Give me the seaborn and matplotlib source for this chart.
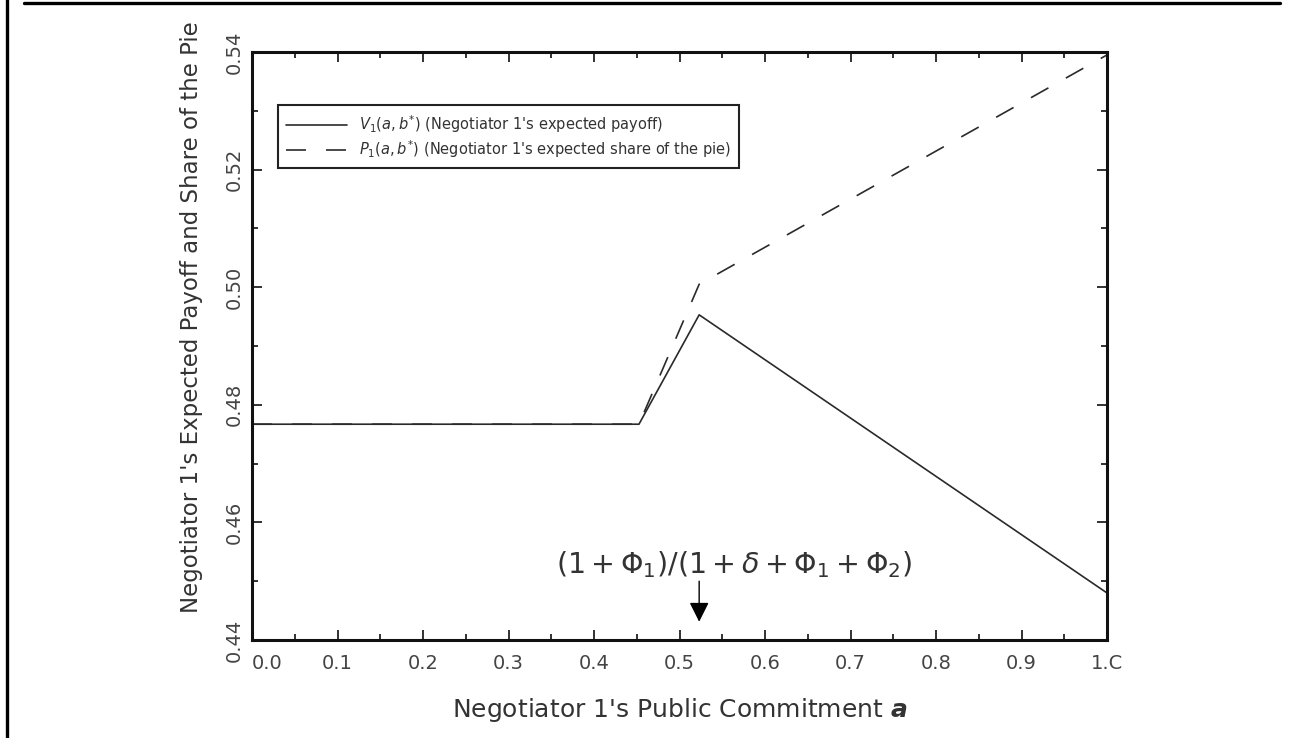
import matplotlib
matplotlib.use("Agg")
import matplotlib.pyplot as plt
import matplotlib.lines as mlines
import seaborn as sns
import pandas as pd

# values
a_payoff = [0.0, 0.4526, 0.523, 1.0]
v_payoff = [0.4767, 0.4767, 0.4953, 0.4480]
a_share = [0.0, 0.4526, 0.523, 1.0]
p_share = [0.4767, 0.4767, 0.5005, 0.5395]

label_v = r"$V_1(a,b^{*})$ (Negotiator 1's expected payoff)"
label_p = r"$P_1(a,b^{*})$ (Negotiator 1's expected share of the pie)"

x_ticks = [0.0, 0.1, 0.2, 0.3, 0.4, 0.5, 0.6, 0.7, 0.8, 0.9, 1.0]
x_ticklabels = ["0.0", "0.1", "0.2", "0.3", "0.4", "0.5", "0.6", "0.7", "0.8", "0.9", "1.C"]
y_ticks = [0.44, 0.46, 0.48, 0.50, 0.52, 0.54]
y_ticklabels = ["0.44", "0.46", "0.48", "0.50", "0.52", "0.54"]

arrow_x = 0.523
formula = r"$(1+\Phi_1)/(1+\delta+\Phi_1+\Phi_2)$"

df = pd.concat([
    pd.DataFrame({"a": a_payoff, "value": v_payoff, "series": label_v}),
    pd.DataFrame({"a": a_share, "value": p_share, "series": label_p}),
])

sns.set_style("ticks")
plt.rcParams["font.family"] = ["DejaVu Sans"]
plt.rcParams["mathtext.fontset"] = "dejavusans"

fig = plt.figure(figsize=(12.96, 7.38), dpi=100)
ax = fig.add_axes([252 / 1296, 98 / 738, 855 / 1296, 588 / 738])

sns.lineplot(
    data=df, x="a", y="value", style="series",
    dashes={label_v: "", label_p: (12, 12)},
    color="#2a2a2a", linewidth=1.2, sort=False, ax=ax,
)

ax.set_xlim(0.0, 1.0)
ax.set_ylim(0.44, 0.54)
ax.set_xticks(x_ticks)
ax.set_xticklabels(x_ticklabels)
ax.set_xticks([0.05 + 0.1 * i for i in range(10)], minor=True)
ax.set_yticks(y_ticks)
ax.set_yticklabels(y_ticklabels)
ax.set_yticks([0.45, 0.47, 0.49, 0.51, 0.53], minor=True)

ax.tick_params(which="both", direction="in", top=True, right=True,
               color="#222", width=1.3)
ax.tick_params(which="major", length=7, labelsize=14, labelcolor="#444")
ax.tick_params(which="minor", length=4.5)
ax.tick_params(axis="x", pad=10)
ax.tick_params(axis="y", pad=6)
plt.setp(ax.get_yticklabels(), rotation=90, va="center")
ax.get_xticklabels()[0].set_horizontalalignment("left")

for s in ax.spines.values():
    s.set_linewidth(2.2)
    s.set_color("#111")

ax.set_xlabel("Negotiator 1's Public Commitment " + r"$\mathbfit{a}$",
              fontsize=18, color="#333")
ax.xaxis.set_label_coords(0.5, -0.095)
ax.set_ylabel("Negotiator 1's Expected Payoff and Share of the Pie",
              fontsize=16.5, color="#333")
ax.yaxis.set_label_coords(-0.057, 0.549)

handles, labels = ax.get_legend_handles_labels()
leg = ax.legend(handles, labels, loc="upper left", bbox_to_anchor=(0.0304, 0.9099),
                borderaxespad=0, fontsize=10.5, handlelength=4.2, frameon=True,
                fancybox=False, edgecolor="#222", framealpha=1,
                labelspacing=0.25, borderpad=0.55)
leg.get_frame().set_linewidth(1.5)
for t in leg.get_texts():
    t.set_color("#333")

ax.text(0.564, 0.4528, formula, fontsize=20.5, ha="center", va="center", color="#333")
ax.annotate("", xy=(arrow_x, 0.4431), xytext=(arrow_x, 0.4500),
            arrowprops=dict(arrowstyle="-|>", mutation_scale=30, lw=1.0,
                            color="black", shrinkA=0, shrinkB=0))

# page frame lines from the scanned figure
fig.add_artist(mlines.Line2D([24 / 1296, 1280 / 1296], [1 - 3 / 738, 1 - 3 / 738],
                             color="black", lw=2.4))
fig.add_artist(mlines.Line2D([7 / 1296, 7 / 1296], [0, 1], color="black", lw=2.4))

fig.savefig("out.png", dpi=100)
